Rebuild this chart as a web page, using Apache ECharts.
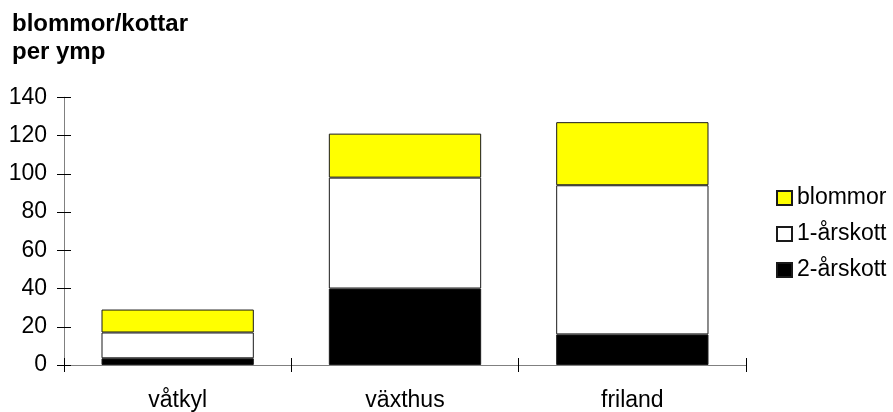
<!DOCTYPE html>
<html>
<head>
<meta charset="utf-8">
<script src="https://cdn.jsdelivr.net/npm/echarts@6/dist/echarts.min.js"></script>
<style>
  html, body { margin: 0; padding: 0; background: #fff; }
  #chart { width: 893px; height: 412px; }
</style>
</head>
<body>
<div id="chart"></div>
<script>
// Flowers / cones per graft, by treatment
const categories = ['våtkyl', 'växthus', 'friland'];
const tvaArsskott = [3.5, 40, 16];   // 2-årskott
const ettArsskott = [13.5, 58, 78];  // 1-årskott
const blommor = [12, 23, 33];        // blommor
const yTicks = [0, 20, 40, 60, 80, 100, 120, 140];

const FONT = 'Liberation Sans, Arial, sans-serif';
const FS = 23;

const yMin = yTicks[0], yMax = yTicks[yTicks.length - 1], yStep = yTicks[1] - yTicks[0];

const barStyle = (color) => ({ color: color, borderColor: '#1a1a1a', borderWidth: 1 });
const axisGray = { color: '#808080', width: 1 };
const tickBlack = { color: '#000', width: 1 };

const chart = echarts.init(document.getElementById('chart'), null, { renderer: 'canvas' });
chart.setOption({
  animation: false,
  backgroundColor: '#fff',
  textStyle: { fontFamily: FONT },
  title: {
    text: 'blommor/kottar\nper ymp',
    left: 12, top: 10, padding: 0,
    textStyle: { fontFamily: FONT, fontSize: 24, fontWeight: 'bold', color: '#000', lineHeight: 28 }
  },
  legend: {
    orient: 'vertical',
    left: 776, top: 186, padding: 0,
    icon: 'rect',
    itemWidth: 15, itemHeight: 14,
    itemGap: 12,
    data: ['blommor', '1-årskott', '2-årskott'],
    textStyle: { fontFamily: FONT, fontSize: FS, color: '#000', lineHeight: 24 }
  },
  grid: { left: 64, right: 147, top: 97.3, bottom: 45.3 },
  xAxis: [
    {
      // labels and lower half of the crossing ticks
      type: 'category', position: 'bottom', data: categories,
      axisLine: { lineStyle: axisGray },
      axisTick: { show: true, inside: false, length: 7, lineStyle: tickBlack },
      axisLabel: { color: '#000', fontFamily: FONT, fontSize: FS, margin: 24 }
    },
    {
      // upper half of the crossing ticks
      type: 'category', position: 'bottom', data: categories,
      axisLine: { show: true, lineStyle: axisGray },
      axisTick: { show: true, inside: true, length: 7, lineStyle: tickBlack },
      axisLabel: { show: false }
    }
  ],
  yAxis: [
    {
      // labels and left half of the crossing ticks
      type: 'value', position: 'left', min: yMin, max: yMax, interval: yStep,
      axisLine: { show: true, lineStyle: axisGray },
      axisTick: { show: true, inside: false, length: 7, lineStyle: tickBlack },
      axisLabel: { color: '#000', fontFamily: FONT, fontSize: FS, margin: 17 },
      splitLine: { show: false }
    },
    {
      // right half of the crossing ticks
      type: 'value', position: 'left', min: yMin, max: yMax, interval: yStep,
      axisLine: { show: true, lineStyle: axisGray },
      axisTick: { show: true, inside: true, length: 7, lineStyle: tickBlack },
      axisLabel: { show: false },
      splitLine: { show: false }
    }
  ],
  series: [
    {
      name: '2-årskott', type: 'bar', stack: 'total', xAxisIndex: 0, yAxisIndex: 0,
      barCategoryGap: '33%', data: tvaArsskott, itemStyle: barStyle('#000000')
    },
    {
      name: '1-årskott', type: 'bar', stack: 'total', xAxisIndex: 0, yAxisIndex: 0,
      barCategoryGap: '33%', data: ettArsskott, itemStyle: barStyle('#ffffff')
    },
    {
      name: 'blommor', type: 'bar', stack: 'total', xAxisIndex: 0, yAxisIndex: 0,
      barCategoryGap: '33%', data: blommor, itemStyle: barStyle('#ffff00')
    }
  ]
});
</script>
</body>
</html>
